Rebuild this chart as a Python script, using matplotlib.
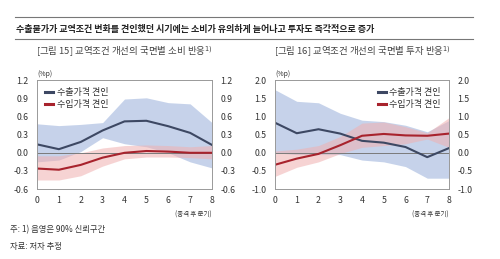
import numpy as np
import matplotlib
matplotlib.use('Agg')
import matplotlib.pyplot as plt

plt.rcParams['font.family'] = ['Noto Sans CJK KR', 'DejaVu Sans']

quarters = [0, 1, 2, 3, 4, 5, 6, 7, 8]

# [그림 15] 소비 반응
cons_exp = [0.14, 0.06, 0.18, 0.37, 0.52, 0.53, 0.44, 0.33, 0.13]
cons_exp_hi = [0.48, 0.45, 0.47, 0.50, 0.89, 0.91, 0.83, 0.81, 0.50]
cons_exp_lo = [-0.15, -0.12, 0.02, 0.25, 0.15, 0.10, 0.00, -0.15, -0.25]
cons_imp = [-0.26, -0.28, -0.20, -0.08, 0.00, 0.03, 0.02, 0.00, 0.00]
cons_imp_hi = [-0.05, -0.05, 0.00, 0.08, 0.12, 0.13, 0.12, 0.10, 0.12]
cons_imp_lo = [-0.45, -0.45, -0.38, -0.22, -0.10, -0.07, -0.07, -0.08, -0.10]

# [그림 16] 투자 반응
inv_exp = [0.83, 0.54, 0.65, 0.53, 0.33, 0.28, 0.16, -0.12, 0.13]
inv_exp_hi = [1.74, 1.42, 1.38, 1.09, 0.90, 0.86, 0.76, 0.58, 0.89]
inv_exp_lo = [0.00, -0.05, -0.05, -0.05, -0.20, -0.25, -0.38, -0.70, -0.70]
inv_imp = [-0.33, -0.16, -0.03, 0.21, 0.47, 0.52, 0.48, 0.47, 0.53]
inv_imp_hi = [0.05, 0.10, 0.20, 0.45, 0.82, 0.85, 0.72, 0.55, 0.97]
inv_imp_lo = [-0.65, -0.40, -0.25, -0.02, 0.15, 0.20, 0.25, 0.38, 0.15]

navy = '#3d4863'
red = '#a8232d'
blue_band = '#b3c4e4'
red_band = '#f0b0b0'
grey = '#7a7a7a'
txt = '#333333'

fig = plt.figure(figsize=(5, 2.59), dpi=100)

# top title with rules
fig.add_artist(plt.Line2D([0.03, 0.946], [0.934, 0.934], color='#777777', lw=0.8))
fig.add_artist(plt.Line2D([0.03, 0.946], [0.849, 0.849], color='#777777', lw=0.8))
fig.text(0.032, 0.885, '수출물가가 교역조건 변화를 견인했던 시기에는 소비가 유의하게 늘어나고 투자도 즉각적으로 증가',
         fontsize=6.5, color='#222222', va='center', fontweight='bold')


def panel(rect, title, ylim, yticks, fmt, exp, exp_hi, exp_lo, imp, imp_hi, imp_lo, legloc):
    ax = fig.add_axes(rect)
    ax.fill_between(quarters, exp_lo, exp_hi, color=blue_band, alpha=0.75, lw=0)
    ax.fill_between(quarters, imp_lo, imp_hi, color=red_band, alpha=0.55, lw=0)
    ax.axhline(0, color=grey, lw=0.7)
    ax.plot(quarters, exp, color=navy, lw=1.5, label='수출가격 견인')
    ax.plot(quarters, imp, color=red, lw=1.5, label='수입가격 견인')
    ax.set_xlim(0, 8)
    ax.set_ylim(*ylim)
    ax.set_xticks(quarters)
    ax.set_yticks(yticks)
    ax.set_yticklabels([fmt % v for v in yticks])
    ax.tick_params(length=0, labelsize=6.3, colors=txt, pad=6)
    ax.tick_params(axis='x', pad=5)
    ax.tick_params(right=True, labelright=True)
    for s in ax.spines.values():
        s.set_color('#999999')
        s.set_linewidth(0.7)
    leg = ax.legend(loc=legloc, frameon=False, fontsize=6.5, handlelength=0.9,
                    handletextpad=0.4, labelspacing=0.3, borderaxespad=0.5)
    for h in leg.get_lines():
        h.set_linewidth(2.2)
    for t in leg.get_texts():
        t.set_color(txt)
    ax.text(0, 1.025, '(%p)', transform=ax.transAxes, fontsize=5, color=txt, va='bottom')
    ax.text(1.0, -0.2, '(충격 후 분기)', transform=ax.transAxes, fontsize=4.6, color=txt,
            ha='right', va='top')
    ax.text(0.5, 1.265, title, transform=ax.transAxes, fontsize=6.8, color='#444444',
            ha='center', va='center')
    return ax


panel([0.074, 0.27, 0.35, 0.42], '[그림 15] 교역조건 개선의 국면별 소비 반응$^{1)}$',
      (-0.6, 1.2), [-0.6, -0.3, 0.0, 0.3, 0.6, 0.9, 1.2], '%.1f',
      cons_exp, cons_exp_hi, cons_exp_lo, cons_imp, cons_imp_hi, cons_imp_lo, 'upper left')
panel([0.55, 0.27, 0.348, 0.42], '[그림 16] 교역조건 개선의 국면별 투자 반응$^{1)}$',
      (-1.0, 2.0), [-1.0, -0.5, 0.0, 0.5, 1.0, 1.5, 2.0], '%.1f',
      inv_exp, inv_exp_hi, inv_exp_lo, inv_imp, inv_imp_hi, inv_imp_lo, 'upper right')

fig.text(0.02, 0.112, '주: 1) 음영은 90% 신뢰구간', fontsize=6, color=txt, va='center')
fig.text(0.02, 0.05, '자료: 저자 추정', fontsize=6, color=txt, va='center')

fig.savefig('out.png', dpi=100)
